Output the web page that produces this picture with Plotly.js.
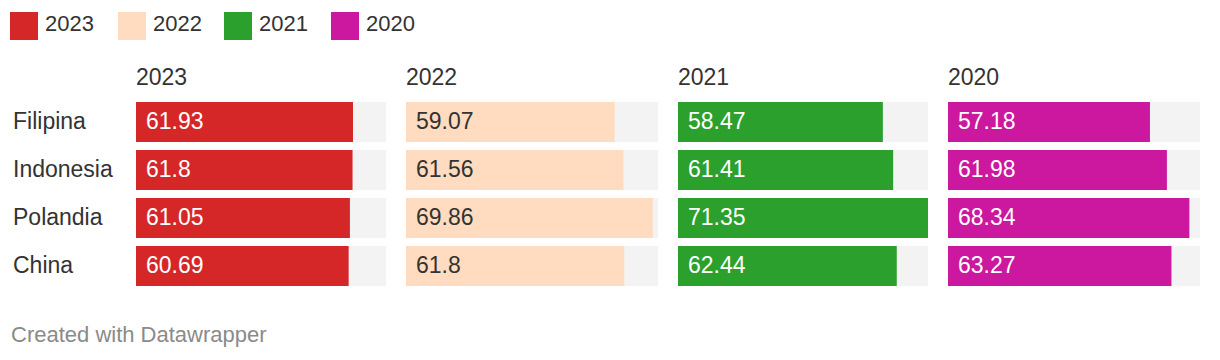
<!DOCTYPE html>
<html>
<head>
<meta charset="utf-8">
<script src="https://cdn.plot.ly/plotly-3.0.1.min.js"></script>
<style>
html,body{margin:0;padding:0;background:#fff;}
#chart{width:1220px;height:360px;}
</style>
</head>
<body>
<div id="chart"></div>
<script>
const countries = ["Filipina", "Indonesia", "Polandia", "China"];
const years = ["2023", "2022", "2021", "2020"];
const v2023 = [61.93, 61.8, 61.05, 60.69];
const v2022 = [59.07, 61.56, 69.86, 61.8];
const v2021 = [58.47, 61.41, 71.35, 62.44];
const v2020 = [57.18, 61.98, 68.34, 63.27];
const labels2023 = ["61.93", "61.8", "61.05", "60.69"];
const labels2022 = ["59.07", "61.56", "69.86", "61.8"];
const labels2021 = ["58.47", "61.41", "71.35", "62.44"];
const labels2020 = ["57.18", "61.98", "68.34", "63.27"];

const series = [v2023, v2022, v2021, v2020];
const seriesLabels = [labels2023, labels2022, labels2021, labels2020];
const colors = ["#d62728", "#ffdcc0", "#2ca02c", "#cc189e"];
const labelColors = ["#ffffff", "#333333", "#ffffff", "#ffffff"];

const W = 1220, H = 360;
const maxVal = Math.max(...series.flat());
const panelPx = [[136, 386], [406, 658], [678, 928], [948, 1200]];
const FONT = "Liberation Sans, Arial, Helvetica, sans-serif";
const FS = 23;

const traces = [];
const layout = {
  width: W, height: H,
  margin: {l: 0, r: 0, t: 0, b: 0},
  paper_bgcolor: "#ffffff", plot_bgcolor: "rgba(0,0,0,0)",
  barmode: "overlay", bargap: 8/48,
  showlegend: false,
  font: {family: FONT, color: "#333333", size: FS},
  yaxis: {
    type: "category", categoryorder: "array", categoryarray: countries,
    autorange: "reversed", domain: [(H - 290) / H, (H - 98) / H],
    showticklabels: false, showgrid: false, zeroline: false, fixedrange: true
  },
  annotations: [], shapes: []
};

series.forEach((vals, i) => {
  const ax = i === 0 ? "x" : "x" + (i + 1);
  const axKey = i === 0 ? "xaxis" : "xaxis" + (i + 1);
  layout[axKey] = {
    domain: [panelPx[i][0] / W, panelPx[i][1] / W],
    range: [0, maxVal], showticklabels: false, showgrid: false,
    zeroline: false, fixedrange: true, anchor: "y"
  };
  traces.push({
    type: "bar", orientation: "h", xaxis: ax, yaxis: "y",
    y: countries, x: countries.map(() => maxVal),
    marker: {color: "#f3f3f3"}, hoverinfo: "skip"
  });
  traces.push({
    type: "bar", orientation: "h", xaxis: ax, yaxis: "y",
    y: countries, x: vals, name: years[i],
    marker: {color: colors[i]}
  });
  vals.forEach((v, j) => {
    layout.annotations.push({
      xref: ax, yref: "y", x: 0, y: countries[j], xanchor: "left", yanchor: "middle",
      xshift: 8, yshift: 1, text: seriesLabels[i][j], showarrow: false,
      font: {family: FONT, size: FS, color: labelColors[i]}
    });
  });
  layout.annotations.push({
    xref: ax, yref: "paper", x: 0, y: (H - 77) / H, xanchor: "left", yanchor: "middle",
    text: years[i], showarrow: false, xshift: -2,
    font: {family: FONT, size: FS, color: "#333333"}
  });
  // legend
  const lx = [10, 118, 224, 331][i];
  layout.shapes.push({
    type: "rect", xref: "paper", yref: "paper",
    x0: lx / W, x1: (lx + 28) / W, y0: (H - 40) / H, y1: (H - 12) / H,
    fillcolor: colors[i], line: {width: 0}
  });
  layout.annotations.push({
    xref: "paper", yref: "paper", x: (lx + 33) / W, y: (H - 24) / H,
    xanchor: "left", yanchor: "middle", text: years[i], showarrow: false,
    font: {family: FONT, size: FS - 1, color: "#333333"}
  });
});

countries.forEach(c => {
  layout.annotations.push({
    xref: "paper", yref: "y", x: 11 / W, y: c, xanchor: "left", yanchor: "middle",
    yshift: 1, text: c, showarrow: false, font: {family: FONT, size: FS, color: "#333333"}
  });
});

layout.annotations.push({
  xref: "paper", yref: "paper", x: 9 / W, y: (H - 334) / H,
  xanchor: "left", yanchor: "middle", text: "Created with Datawrapper",
  showarrow: false, font: {family: FONT, size: 22, color: "#8a8a8a"}
});

Plotly.newPlot("chart", traces, layout, {displayModeBar: false, staticPlot: true});
</script>
</body>
</html>
